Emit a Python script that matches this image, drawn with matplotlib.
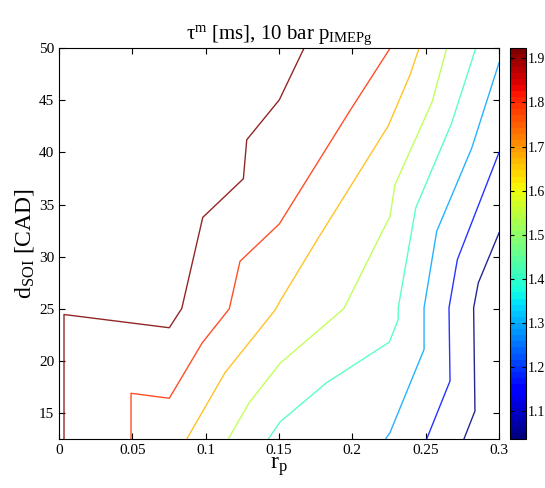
import matplotlib
matplotlib.use('Agg')
import matplotlib.pyplot as plt
import matplotlib.colors as mcolors
import matplotlib.cm as cm

plt.rcParams['font.family'] = ['Liberation Serif', 'DejaVu Serif']
plt.rcParams['mathtext.fontset'] = 'custom'
plt.rcParams['mathtext.rm'] = 'Liberation Serif'
plt.rcParams['mathtext.it'] = 'Liberation Serif:italic'

# contour levels and their traced lines (r_p, d_SOI)
levels = [1.9, 1.8, 1.7, 1.6, 1.5, 1.4, 1.3, 1.2]

rp_19 = [0.0034, 0.0034, 0.0752, 0.0837, 0.098, 0.1257, 0.128, 0.1502, 0.167]
d_19 = [12.5, 24.45, 23.18, 25.03, 33.77, 37.48, 41.22, 45.05, 50.0]

rp_18 = [0.0491, 0.0491, 0.0752, 0.0975, 0.1161, 0.1234, 0.1502, 0.198, 0.2257]
d_18 = [12.5, 16.89, 16.41, 21.7, 25.0, 29.56, 33.14, 43.93, 50.0]

rp_17 = [0.0871, 0.1132, 0.1473, 0.1507, 0.1761, 0.2245, 0.2393, 0.2455]
d_17 = [12.5, 18.87, 24.87, 25.73, 31.64, 42.56, 47.44, 50.0]

rp_16 = [0.1154, 0.1297, 0.1507, 0.1943, 0.2177, 0.2257, 0.2291, 0.2545, 0.2643]
d_16 = [12.5, 15.99, 19.76, 25.03, 31.64, 33.87, 36.91, 44.89, 50.0]

rp_15 = [0.1427, 0.1507, 0.1825, 0.2252, 0.2313, 0.2313, 0.2432, 0.2677, 0.2841]
d_15 = [12.5, 14.14, 17.91, 21.8, 23.98, 25.1, 34.67, 42.82, 50.0]

rp_14 = [0.2227, 0.2257, 0.2489, 0.2489, 0.2575, 0.2814, 0.3]
d_14 = [12.5, 13.12, 21.1, 25.1, 32.43, 40.42, 48.6]

rp_13 = [0.2507, 0.2666, 0.2659, 0.2716, 0.3]
d_13 = [12.5, 18.07, 25.1, 29.72, 40.0]

rp_12 = [0.2761, 0.2836, 0.2827, 0.2859, 0.3]
d_12 = [12.5, 15.19, 25.1, 27.49, 32.28]

rp_lines = [rp_19, rp_18, rp_17, rp_16, rp_15, rp_14, rp_13, rp_12]
d_lines = [d_19, d_18, d_17, d_16, d_15, d_14, d_13, d_12]

xticks = [0, 0.05, 0.1, 0.15, 0.2, 0.25, 0.3]
xticklabels = ['0', '0.05', '0.1', '0.15', '0.2', '0.25', '0.3']
yticks = [15, 20, 25, 30, 35, 40, 45, 50]
cticks = [1.1, 1.2, 1.3, 1.4, 1.5, 1.6, 1.7, 1.8, 1.9]
CMIN, CMAX = 1.036, 1.923

cmap = plt.get_cmap('jet', 64)
line_cmap = plt.get_cmap('jet')
norm = mcolors.Normalize(vmin=CMIN, vmax=CMAX)
# line colours span the full map over the drawn levels (matlab style)
line_norm = mcolors.Normalize(vmin=min(levels), vmax=max(levels))

fig = plt.figure(figsize=(5.45, 4.88), dpi=100)
ax = fig.add_axes([0.1083, 0.1004, 0.8073, 0.8006])
cax = fig.add_axes([0.9358, 0.1004, 0.0285, 0.8006])

for lev, xs, ys in zip(levels, rp_lines, d_lines):
    ax.plot(xs, ys, color=line_cmap(line_norm(lev)), lw=1.0, alpha=0.85)

ax.set_xlim(0, 0.3)
ax.set_ylim(12.5, 50)
ax.set_xticks(xticks)
ax.set_xticklabels(xticklabels)
ax.set_yticks(yticks)
ax.tick_params(direction='in', top=True, right=True, labelsize=11, length=4)
ax.set_xlabel(r'r$_{\mathrm{p}}$', fontsize=17, labelpad=-1)
ax.set_ylabel(r'd$_{\mathrm{SOI}}$ [CAD]', fontsize=17, labelpad=2)
ax.set_title(r'τ$^{\mathrm{m}}$ [ms], 10 bar p$_{\mathrm{IMEPg}}$', fontsize=15, pad=7)

sm = cm.ScalarMappable(norm=norm, cmap=cmap)
cb = fig.colorbar(sm, cax=cax, ticks=cticks)
cb.ax.tick_params(direction='in', labelsize=10, length=3, left=True, pad=1.5)
cb.outline.set_linewidth(0.8)

fig.savefig('out.png', dpi=100)
